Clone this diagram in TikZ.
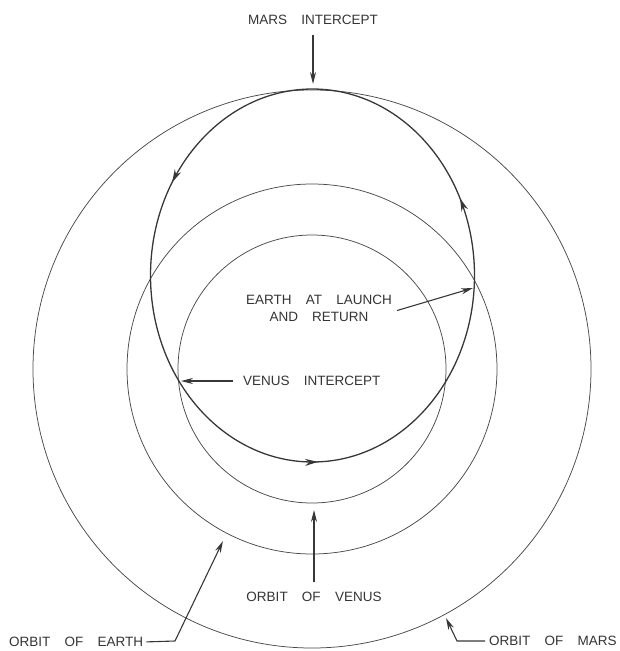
\documentclass[tikz,border=0pt]{standalone}
\usepackage{fontspec}
\newfontfamily\lblfont[WordSpace=3.8]{Liberation Sans}
\usetikzlibrary{arrows.meta, decorations.markings}
\definecolor{inkGray}{HTML}{4A4A4A}

\begin{document}
\begin{tikzpicture}[x=1pt, y=-1pt,
    orbit/.style={draw=inkGray, line width=0.75pt},
    transfer/.style={draw=inkGray!75!black, line width=1.3pt},
    ptr/.style={draw=inkGray!75!black, line width=1.1pt, -{Stealth[length=12pt, width=6pt]}},
    lbl/.style={font=\lblfont\fontsize{13.5}{17}\selectfont, text=inkGray!70!black, inner sep=0pt}]
    \useasboundingbox (0,0) rectangle (619,651);
    % planet orbits, all round the sun
    \coordinate (sun) at (312,369);
    \draw[orbit] (sun) circle[radius=279];
    \draw[orbit] (sun) circle[radius=185];
    \draw[orbit] (sun) circle[radius=134];
    % transfer ellipse with direction marks
    \draw[transfer, postaction={decorate}, decoration={markings,
        mark=at position 0.245 with {\arrowreversed{Stealth[length=13pt, width=7pt]}},
        mark=at position 0.588 with {\arrowreversed{Stealth[length=13pt, width=7pt]}},
        mark=at position 0.928 with {\arrowreversed{Stealth[length=13pt, width=7pt]}}}]
      (312.5,275.5) ellipse[x radius=162, y radius=186.5];
    % labels
    \node[lbl] (marsint) at (313,20) {MARS INTERCEPT};
    \node[lbl, align=center] (earthlbl) at (319,308.5) {EARTH AT LAUNCH\\AND RETURN};
    \node[lbl, anchor=west] (venint) at (243,381) {VENUS INTERCEPT};
    \node[lbl] (venlbl) at (314,597) {ORBIT OF VENUS};
    \node[lbl, anchor=west] (earthorb) at (9,642) {ORBIT OF EARTH};
    \node[lbl, anchor=west] (marsorb) at (489,641) {ORBIT OF MARS};
    % pointer ends
    \coordinate (mtop) at (313,84);
    \coordinate (ehit) at (473,288);
    \coordinate (vhit) at (181,381);
    \coordinate (vbot) at (314,510);
    \coordinate (ekink) at (175,641);
    \coordinate (ebot) at (223,541);
    \coordinate (mkink) at (457,641);
    \coordinate (mbot) at (446,618);
    \draw[ptr, shorten <=10pt] (marsint) -- (mtop);
    \draw[ptr] ([xshift=5pt, yshift=-2pt]earthlbl.east) -- (ehit);
    \draw[ptr, shorten <=10pt] (venint) -- (vhit);
    \draw[ptr, shorten <=10pt] (venlbl) -- (vbot);
    \draw[ptr, shorten <=3pt] (earthorb.east) -- (ekink) -- (ebot);
    \draw[ptr, shorten <=4pt] (marsorb.west) -- (mkink) -- (mbot);
\end{tikzpicture}
\end{document}
